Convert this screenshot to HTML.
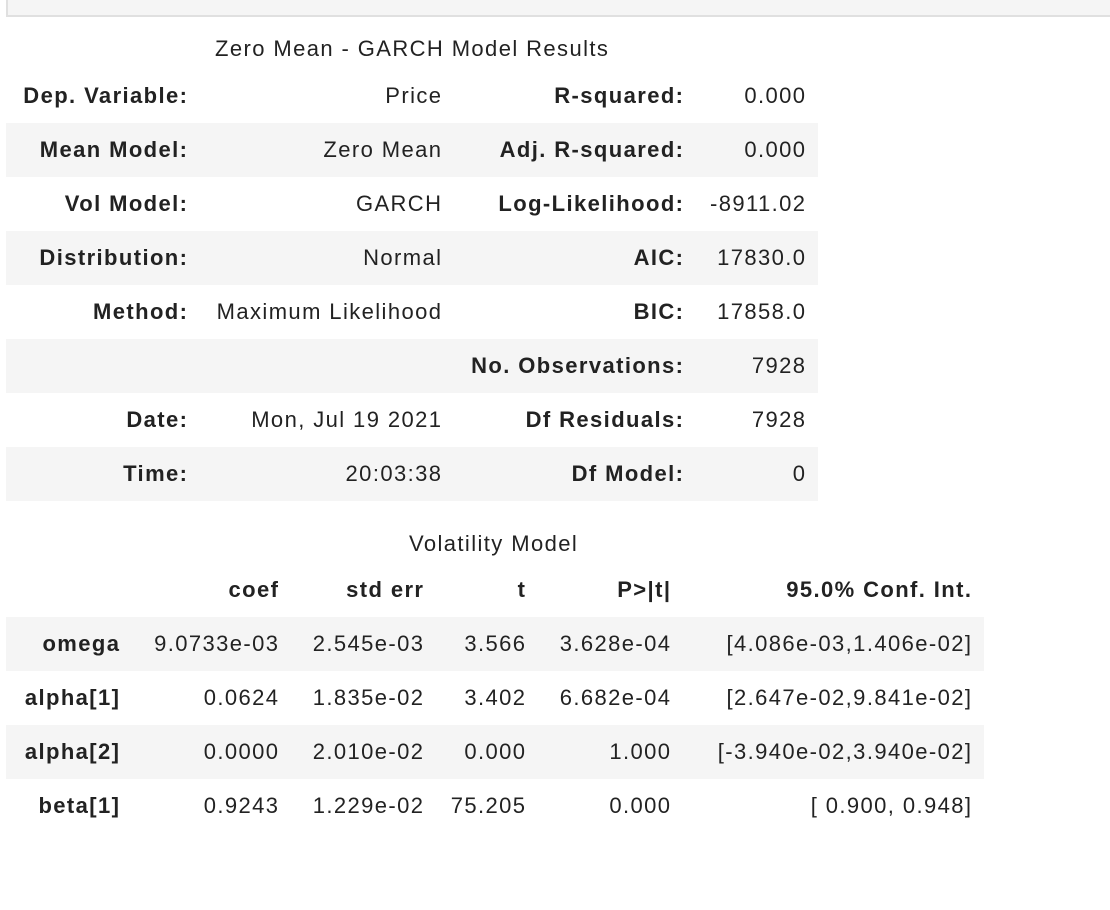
<!DOCTYPE html>
<html><head><meta charset="utf-8">
<style>
body{margin:0;width:1110px;height:910px;background:#fff;position:relative;overflow:hidden;font-family:"Liberation Sans",sans-serif;color:#222;font-size:22px;letter-spacing:1.4px;}
.box{position:absolute;left:6px;top:-2px;width:1110px;height:19px;background:#f5f5f5;border:2px solid #e0e0e0;box-sizing:border-box;}
.row{position:absolute;height:54px;}
.g{background:#f5f5f5;}
.c{position:absolute;top:0;line-height:54px;text-align:right;white-space:nowrap;margin-right:-1.4px;}
.b{font-weight:bold;}
.cap{position:absolute;line-height:30px;white-space:nowrap;}
</style></head><body>
<div class="box"></div>
<div class="cap" style="left:215px;top:34px">Zero Mean - GARCH Model Results</div>
<div id="t1"></div>
<div class="cap" style="left:409px;top:529px">Volatility Model</div>
<div id="t2"></div>
<script>
const t1Rows=[
["Dep. Variable:","Price","R-squared:","0.000"],
["Mean Model:","Zero Mean","Adj. R-squared:","0.000"],
["Vol Model:","GARCH","Log-Likelihood:","-8911.02"],
["Distribution:","Normal","AIC:","17830.0"],
["Method:","Maximum Likelihood","BIC:","17858.0"],
["","","No. Observations:","7928"],
["Date:","Mon, Jul 19 2021","Df Residuals:","7928"],
["Time:","20:03:38","Df Model:","0"]];
const t1Right=[187,441,683,805];
const t1Bold=[true,false,true,false];
const t2Rows=[
["","coef","std err","t","P>|t|","95.0% Conf. Int."],
["omega","9.0733e-03","2.545e-03","3.566","3.628e-04","[4.086e-03,1.406e-02]"],
["alpha[1]","0.0624","1.835e-02","3.402","6.682e-04","[2.647e-02,9.841e-02]"],
["alpha[2]","0.0000","2.010e-02","0.000","1.000","[-3.940e-02,3.940e-02]"],
["beta[1]","0.9243","1.229e-02","75.205","0.000","[ 0.900, 0.948]"]];
const t2Right=[119,278,423,525,670,971];
function build(host,rows,rights,top,width,isBold,grey){
  rows.forEach((r,i)=>{
    const row=document.createElement('div');
    row.className='row'+(grey(i)?' g':'');
    row.style.left='6px';row.style.top=(top+i*54)+'px';row.style.width=width+'px';
    
    
    r.forEach((txt,j)=>{
      const c=document.createElement('div');
      c.className='c'+(isBold(i,j)?' b':'');
      c.style.right=(width+6-rights[j])+'px';
      c.textContent=txt;
      
      
      row.appendChild(c);
    });
    host.appendChild(row);
  });
}
build(document.getElementById('t1'),t1Rows,t1Right,69,812,(i,j)=>t1Bold[j],i=>i%2==1);
build(document.getElementById('t2'),t2Rows,t2Right,563,978,(i,j)=>i==0||j==0,i=>i%2==1);
</script>
</body></html>
